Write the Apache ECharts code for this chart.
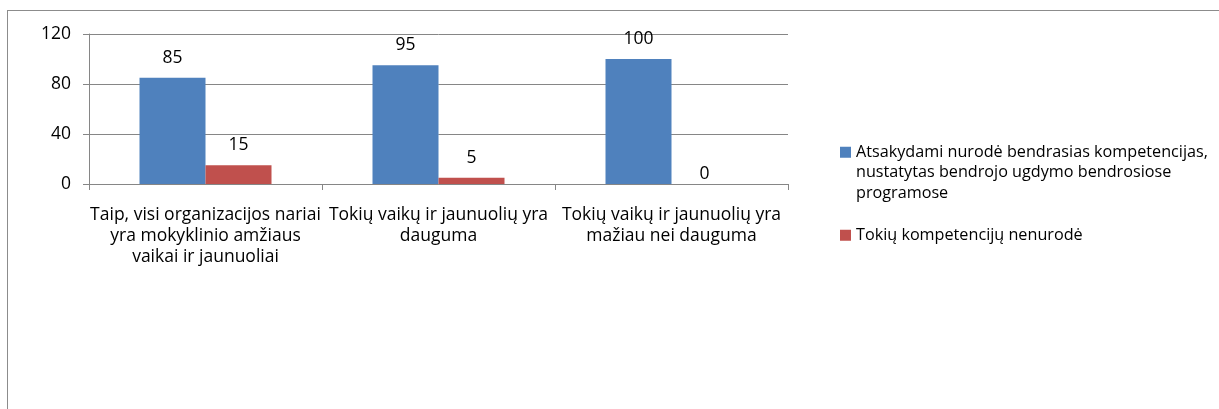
<!DOCTYPE html>
<html>
<head>
<meta charset="utf-8">
<script src="https://cdn.jsdelivr.net/npm/echarts@6/dist/echarts.min.js"></script>
<style>
  html, body { margin: 0; padding: 0; background: #fff; }
  #frame { position: absolute; left: 7px; top: 10px; width: 1230px; height: 420px; border: 1px solid #8c8c8c; box-sizing: border-box; }
  #chart { position: absolute; left: 0; top: 0; width: 1219px; height: 409px; }
</style>
</head>
<body>
<div id="frame"></div>
<div id="chart"></div>
<script>
const categories = [
  "Taip, visi organizacijos nariai\nyra mokyklinio amžiaus\nvaikai ir jaunuoliai",
  "Tokių vaikų ir jaunuolių yra\ndauguma",
  "Tokių vaikų ir jaunuolių yra\nmažiau nei dauguma"
];
const seriesNames = [
  "Atsakydami nurodė bendrasias kompetencijas,\nnustatytas bendrojo ugdymo bendrosiose\nprogramose",
  "Tokių kompetencijų nenurodė"
];
const seriesA = [85, 95, 100];
const seriesB = [15, 5, 0];
const yTicks = { min: 0, max: 120, interval: 40 };

const FONT = "'Open Sans', sans-serif";
const FS = 17.5;
const LFS = 16.2;
const colors = ["#4F81BD", "#C0504D"];

function mkData(arr) {
  return arr.map(v => v === 0 ? { value: v, label: { distance: 1 } } : v);
}

const chart = echarts.init(document.getElementById('chart'), null, { renderer: 'canvas' });
chart.setOption({
  animation: false,
  color: colors,
  textStyle: { fontFamily: FONT },
  grid: { left: 89, right: 431, top: 34, bottom: 225, containLabel: false },
  legend: [
    {
      data: [seriesNames[0]],
      formatter: n => '\n\n' + n,
      left: 835, top: 96,
      itemWidth: 11, itemHeight: 11, icon: 'rect',
      textStyle: { fontFamily: FONT, fontSize: LFS, color: '#000', lineHeight: 20.5 },
      selectedMode: false
    },
    {
      data: [seriesNames[1]],
      left: 835, top: 220,
      itemWidth: 11, itemHeight: 11, icon: 'rect',
      textStyle: { fontFamily: FONT, fontSize: LFS, color: '#000', lineHeight: 20.5 },
      selectedMode: false
    }
  ],
  xAxis: {
    type: 'category',
    data: categories,
    axisLine: { lineStyle: { color: '#868686', width: 1 } },
    axisTick: { show: true, length: 6, lineStyle: { color: '#868686' } },
    axisLabel: { color: '#000', fontFamily: FONT, fontSize: FS, lineHeight: 21, margin: 21, interval: 0 }
  },
  yAxis: {
    type: 'value',
    min: yTicks.min, max: yTicks.max, interval: yTicks.interval,
    axisLine: { show: true, lineStyle: { color: '#868686' } },
    axisTick: { show: true, length: 6, lineStyle: { color: '#868686' } },
    splitLine: { lineStyle: { color: '#868686' } },
    axisLabel: { color: '#000', fontFamily: FONT, fontSize: FS, margin: 18 }
  },
  series: [
    {
      name: seriesNames[0], type: 'bar', data: mkData(seriesA),
      barWidth: 66, barGap: '0%',
      label: { show: true, position: 'top', distance: 11, color: '#000', fontFamily: FONT, fontSize: FS }
    },
    {
      name: seriesNames[1], type: 'bar', data: mkData(seriesB),
      barWidth: 66, barGap: '0%',
      label: { show: true, position: 'top', distance: 11, color: '#000', fontFamily: FONT, fontSize: FS }
    }
  ]
});
</script>
</body>
</html>
